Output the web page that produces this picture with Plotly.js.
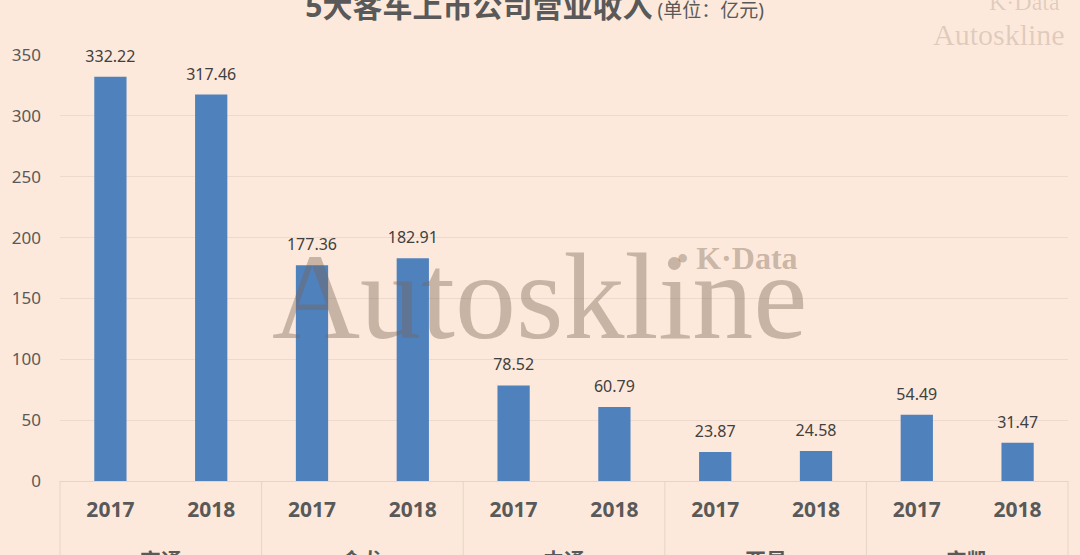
<!DOCTYPE html>
<html>
<head>
<meta charset="utf-8">
<script src="https://cdn.plot.ly/plotly-3.0.1.min.js"></script>
<style>
  html, body { margin: 0; padding: 0; background: #FDE9DB; }
  #plot { width: 1080px; height: 555px; }
</style>
</head>
<body>
<div id="plot"></div>
<script>
// 5 bus makers, revenue 2017 vs 2018 (unit: 100 million yuan)
const companies = ['宇通', '宇通', '金龙', '金龙', '中通', '中通', '亚星', '亚星', '安凯', '安凯'];
const years = ['2017', '2018', '2017', '2018', '2017', '2018', '2017', '2018', '2017', '2018'];
const revenue = [332.22, 317.46, 177.36, 182.91, 78.52, 60.79, 23.87, 24.58, 54.49, 31.47];
const groupNames = ['宇通', '金龙', '中通', '亚星', '安凯'];
const yTicks = [0, 50, 100, 150, 200, 250, 300, 350];

const baseFont = 'Noto Sans, Noto Sans CJK SC, sans-serif';
const serifFont = 'Liberation Serif, DejaVu Serif, serif';
const markColor = 'rgba(120,100,85,0.40)';
const lightMark = 'rgba(120,100,85,0.22)';
const lineColor = '#E6D4C6';

// one unique key per bar, the year is shown as the tick label
const keys = companies.map((c, i) => c + years[i]);

const bars = {
    x: keys,
    y: revenue,
    type: 'bar',
    marker: { color: '#4F81BD' },
    hoverinfo: 'y',
    showlegend: false
};

// value labels a bit above the bar tops (invisible marker pushes the text up)
const labels = {
    x: keys,
    y: revenue,
    type: 'scatter',
    mode: 'markers+text',
    marker: { size: 16, opacity: 0 },
    text: revenue.map(v => v.toFixed(2)),
    textposition: 'top center',
    textfont: { size: 16, color: '#404040', family: baseFont },
    hoverinfo: 'skip',
    showlegend: false,
    cliponaxis: false
};

// company names under each pair of years, cut off by the bottom edge like the original
const groupLabels = groupNames.map((name, g) => ({
    text: '<b>' + name + '</b>',
    xref: 'x', yref: 'paper',
    x: keys.indexOf(name + years[0]) + 0.5,
    y: 0, yanchor: 'middle', yshift: -79,
    showarrow: false,
    font: { size: 21, color: '#595959', family: baseFont }
}));

// vertical separators between companies, below the axis
const dividers = [];
for (let g = 0; g <= groupNames.length; g++) {
    dividers.push({
        type: 'line', xref: 'paper', yref: 'paper',
        x0: g / groupNames.length, x1: g / groupNames.length,
        y0: 0, y1: -0.2,
        line: { color: lineColor, width: 1 }
    });
}

const layout = {
    width: 1080,
    height: 555,
    paper_bgcolor: '#FDE9DB',
    plot_bgcolor: '#FDE9DB',
    margin: { l: 60, r: 12, t: 55, b: 74 },
    font: { family: baseFont, color: '#595959' },
    bargap: 0.68,
    title: {
        text: '<b>5大客车上市公司营业收入</b><span style="font-size:19px"> (单位：亿元)</span>',
        font: { size: 30, color: '#595959', family: baseFont },
        x: 0.495,
        xanchor: 'center',
        yref: 'container',
        y: 0.988,
        yanchor: 'middle'
    },
    xaxis: {
        type: 'category',
        range: [-0.5, keys.length - 0.5],
        tickvals: keys,
        ticktext: years,
        showline: true,
        linecolor: lineColor,
        linewidth: 1,
        showgrid: false,
        ticks: '',
        ticklabelstandoff: 10,
        tickfont: { size: 21, color: '#595959', family: baseFont, weight: 'bold' },
        automargin: false,
        fixedrange: true
    },
    yaxis: {
        range: [0, 350],
        tickvals: yTicks,
        showgrid: true,
        gridcolor: '#EBDACD',
        zeroline: false,
        showline: false,
        ticks: '',
        ticklabelstandoff: 18,
        tickfont: { size: 17, color: '#595959', family: baseFont },
        automargin: false,
        fixedrange: true
    },
    shapes: dividers,
    annotations: groupLabels.concat([
        // big watermark in the middle
        {
            text: 'Autoskline', xref: 'paper', yref: 'paper',
            x: 0.476, y: 0.434, xanchor: 'center', yanchor: 'middle',
            showarrow: false,
            font: { family: serifFont, size: 122, color: markColor }
        },
        {
            text: '• K·Data', xref: 'paper', yref: 'paper',
            x: 0.672, y: 0.523, xanchor: 'center', yanchor: 'middle',
            showarrow: false,
            font: { family: serifFont, size: 32, color: markColor, weight: 'bold' }
        },
        // small watermark at the top right
        {
            text: 'Autoskline', xref: 'paper', yref: 'paper',
            x: 0.932, y: 1.049, xanchor: 'center', yanchor: 'middle',
            showarrow: false,
            font: { family: serifFont, size: 30, color: lightMark }
        },
        {
            text: 'K·Data', xref: 'paper', yref: 'paper',
            x: 0.957, y: 1.124, xanchor: 'center', yanchor: 'middle',
            showarrow: false,
            font: { family: serifFont, size: 24, color: lightMark }
        }
    ])
};

Plotly.newPlot('plot', [bars, labels], layout, { displayModeBar: false, staticPlot: true });
</script>
</body>
</html>
